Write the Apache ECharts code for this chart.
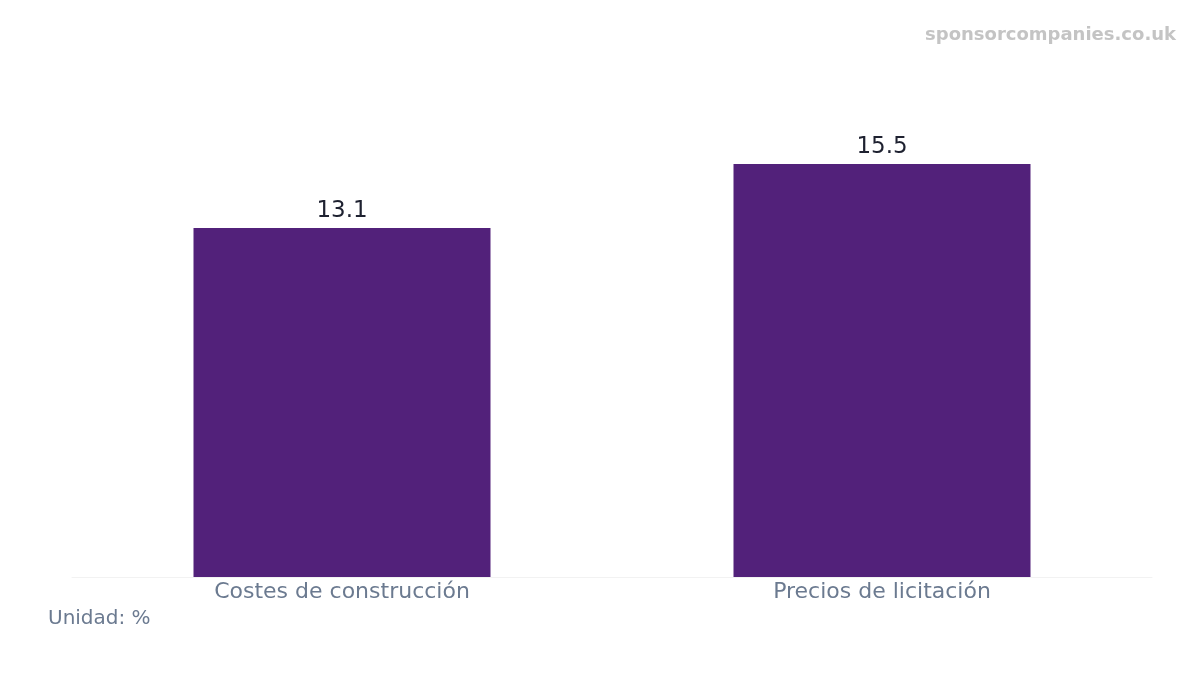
<!DOCTYPE html>
<html>
<head>
<meta charset="utf-8">
<script src="https://cdn.jsdelivr.net/npm/echarts@6/dist/echarts.min.js"></script>
<style>
  html, body { margin: 0; padding: 0; background: #ffffff; }
  #chart { width: 1200px; height: 675px; }
</style>
</head>
<body>
<div id="chart"></div>
<script>
// 数据
const categories = ['Costes de construcción', 'Precios de licitación'];
const values = [13.1, 15.5];
const unitText = 'Unidad: %';
const watermark = 'sponsorcompanies.co.uk';

const FONT = '"DejaVu Sans"';
const chart = echarts.init(document.getElementById('chart'));

const option = {
    backgroundColor: '#ffffff',
    animation: false,
    grid: { left: 72, right: 48, top: 44, bottom: 98 },
    graphic: [
        {
            type: 'text',
            right: 24,
            top: 26,
            style: {
                text: watermark,
                fill: '#c4c4c4',
                font: 'bold 18px ' + FONT
            }
        },
        {
            type: 'text',
            left: 48,
            top: 609,
            style: {
                text: unitText,
                fill: '#6b7a90',
                font: '20px ' + FONT
            }
        }
    ],
    xAxis: {
        type: 'category',
        data: categories,
        axisLine: { show: true, lineStyle: { color: '#f2f2f2', width: 1 } },
        axisTick: { show: false },
        axisLabel: {
            color: '#6b7a90',
            fontSize: 22,
            fontFamily: FONT,
            margin: 4
        }
    },
    yAxis: {
        type: 'value',
        min: 0,
        max: 20,
        show: false,
        splitLine: { show: false }
    },
    series: [{
        type: 'bar',
        data: values,
        barWidth: '55%',
        itemStyle: { color: '#52217a' },
        label: {
            show: true,
            position: 'top',
            distance: 5,
            color: '#1e2130',
            fontSize: 23,
            fontFamily: FONT,
            formatter: p => p.value.toFixed(1)
        }
    }]
};

chart.setOption(option);
</script>
</body>
</html>
